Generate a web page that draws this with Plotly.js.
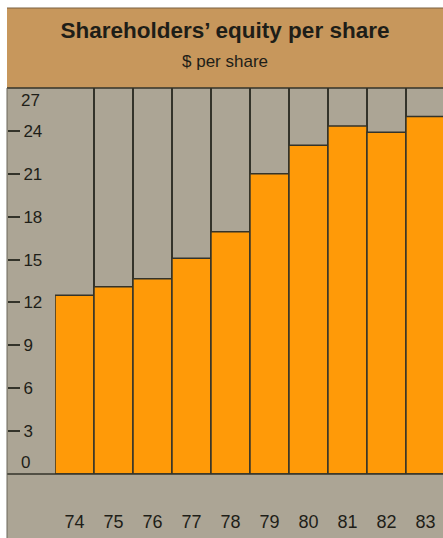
<!DOCTYPE html>
<html>
<head>
<meta charset="utf-8">
<script src="https://cdn.plot.ly/plotly-3.0.1.min.js"></script>
<style>html,body{margin:0;padding:0;background:#fff;}#chart{width:443px;height:538px;}</style>
</head>
<body>
<div id="chart"></div>
<script>
// Data
const years = ['74','75','76','77','78','79','80','81','82','83'];
const equityPerShare = [12.5, 13.1, 13.65, 15.1, 16.95, 21.0, 23.0, 24.35, 23.9, 25.0];
const yTickVals = [3, 6, 9, 12, 15, 18, 21, 24];
const yTickText = ['3', '6', '9', '12', '15', '18', '21', '24'];
const yMin = 0;
const yMax = 27;

const ORANGE = '#ff9a08';
const GRAY = '#aca595';
const TAN = '#c7975c';
const DARK = '#33332a';
const TEXT = '#1e1e18';
const FONT = 'Liberation Sans, Arial, Helvetica, sans-serif';

const H = 538, T = 88, B = 64;
const plotH = H - T - B;

const bars = {
  type: 'bar',
  x: years,
  y: equityPerShare,
  marker: {color: ORANGE, line: {color: DARK, width: 1.5}},
  hoverinfo: 'x+y',
  xaxis: 'x', yaxis: 'y'
};
// empty helper traces so the end-label axes are drawn
const helper2 = {type: 'scatter', x: [], y: [], xaxis: 'x', yaxis: 'y2', hoverinfo: 'skip', showlegend: false};
const helper3 = {type: 'scatter', x: [], y: [], xaxis: 'x', yaxis: 'y3', hoverinfo: 'skip', showlegend: false};

const baseY = {
  range: [yMin, yMax], anchor: 'free', position: 0, side: 'right',
  showgrid: false, zeroline: false, showline: false, fixedrange: true,
  tickfont: {family: FONT, size: 17, color: TEXT}
};

const layout = {
  width: 443, height: 538,
  margin: {l: 7, r: 0, t: T, b: B, pad: 0},
  paper_bgcolor: '#ffffff',
  plot_bgcolor: GRAY,
  showlegend: false,
  bargap: 0,
  title: {
    text: '<b>Shareholders’ equity per share</b><br><span style="font-size:17px;font-weight:normal">$ per share</span>',
    font: {family: FONT, size: 22.5, color: TEXT},
    x: 0.5, xref: 'paper', xanchor: 'center',
    y: 1 - 38 / H, yref: 'container', yanchor: 'top'
  },
  xaxis: {
    type: 'category', range: [-0.5, 9.45], domain: [48 / 436, 1],
    tickson: 'boundaries', showgrid: true, gridcolor: DARK, gridwidth: 1.5,
    ticks: '', ticklabelstandoff: 35, showline: false, zeroline: false, fixedrange: true,
    tickfont: {family: FONT, size: 18, color: TEXT}
  },
  yaxis: Object.assign({}, baseY, {
    tickmode: 'array', tickvals: yTickVals, ticktext: yTickText,
    ticks: 'outside', ticklen: 12, tickwidth: 2, tickcolor: DARK, ticklabelstandoff: 0
  }),
  yaxis2: Object.assign({}, baseY, {
    overlaying: 'y', tickmode: 'array', tickvals: [yMin], ticktext: [String(yMin)],
    ticks: '', ticklabelposition: 'outside top', ticklabelstandoff: 13
  }),
  yaxis3: Object.assign({}, baseY, {
    overlaying: 'y', tickmode: 'array', tickvals: [yMax], ticktext: [String(yMax)],
    ticks: '', ticklabelposition: 'outside bottom', ticklabelstandoff: 13
  }),
  shapes: [
    {type: 'rect', xref: 'paper', yref: 'paper', x0: 0, x1: 1, y0: 1, y1: 1 + 80 / plotH,
     fillcolor: TAN, line: {width: 0}, layer: 'below'},
    {type: 'rect', xref: 'paper', yref: 'paper', x0: 0, x1: 1, y0: -B / plotH, y1: 1,
     fillcolor: GRAY, line: {width: 0}, layer: 'below'},
    {type: 'line', xref: 'paper', yref: 'paper', x0: 0, x1: 1, y0: 0, y1: 0,
     line: {color: DARK, width: 1.5}, layer: 'above'},
    {type: 'line', xref: 'paper', yref: 'paper', x0: 0, x1: 1, y0: 1, y1: 1,
     line: {color: DARK, width: 1.5}, layer: 'above'},
    {type: 'line', xref: 'paper', yref: 'paper', x0: 0, x1: 0, y0: -B / plotH, y1: 1,
     line: {color: '#6a665a', width: 1}, layer: 'above'},
    {type: 'line', xref: 'paper', yref: 'paper', x0: 0, x1: 1, y0: 1 + 80 / plotH, y1: 1 + 80 / plotH,
     line: {color: '#7a6040', width: 1}, layer: 'above'}
  ]
};

Plotly.newPlot('chart', [bars, helper2, helper3], layout, {displayModeBar: false, staticPlot: true});
</script>
</body>
</html>
